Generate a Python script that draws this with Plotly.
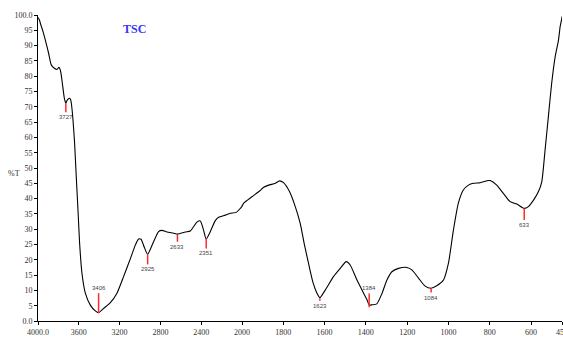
import numpy as np
import plotly.graph_objects as go

# FT-IR transmittance spectrum of TSC
wavenumber = [4000, 3985, 3977, 3950, 3928, 3896, 3870, 3840, 3814, 3795, 3785, 3775,
              3759, 3742, 3735, 3727, 3718, 3705, 3690, 3680, 3671, 3657, 3641, 3625,
              3608, 3592, 3569, 3536, 3487, 3438, 3406, 3357, 3291, 3226, 3161, 3095,
              3046, 3014, 2990, 2958, 2925, 2867, 2818, 2785, 2736, 2671, 2633, 2556,
              2507, 2475, 2442, 2409, 2377, 2351, 2311, 2262, 2229, 2164, 2115, 2056,
              2017, 2000, 1992, 1952, 1915, 1895, 1871, 1839, 1818, 1799, 1770, 1742,
              1718, 1699, 1678, 1657, 1637, 1623, 1597, 1557, 1524, 1495, 1476, 1443,
              1411, 1395, 1384, 1370, 1347, 1322, 1298, 1274, 1242, 1201, 1177, 1145,
              1113, 1084, 1057, 1024, 1000, 976, 952, 928, 903, 879, 847, 807, 798,
              766, 734, 701, 669, 633, 613, 588, 564, 548, 532, 516, 500, 483, 467,
              459, 451, 450]
transmittance = [99.2, 98.3, 97.3, 94.5, 91.8, 87.5, 83.7, 82.6, 82.2, 82.9, 82.4, 81.0,
                 77.1, 72.8, 71.9, 71.1, 71.9, 72.5, 72.8, 72.3, 70.6, 65.7, 58.0, 47.2,
                 36.3, 25.4, 15.6, 9.1, 5.2, 3.3, 2.7, 4.1, 6.0, 9.1, 14.5, 20.3,
                 24.8, 26.8, 26.7, 24.1, 21.8, 25.9, 29.2, 29.6, 29.1, 28.7, 28.4, 29.1,
                 29.4, 30.8, 32.3, 32.7, 29.7, 26.8, 29.2, 32.8, 33.9, 34.6, 35.2, 35.5,
                 36.8, 37.5, 38.5, 40.6, 42.5, 43.7, 44.4, 45.0, 45.8, 45.2, 42.3, 37.4,
                 31.9, 25.4, 18.9, 12.8, 9.1, 7.6, 10.1, 14.5, 17.2, 19.4, 18.3, 13.4,
                 9.1, 7.0, 5.2, 5.3, 5.6, 9.0, 13.4, 16.1, 17.2, 17.5, 16.7, 14.0,
                 11.4, 10.7, 11.5, 13.4, 18.9, 29.7, 38.5, 42.8, 44.4, 45.0, 45.2, 45.9, 45.9,
                 44.4, 41.7, 39.0, 38.2, 36.8, 37.4, 39.5, 42.3, 45.5, 55.9, 66.8, 77.7, 86.4, 91.8,
                 96.2, 98.9, 99.5]

# Labelled absorption bands and the transmittance at each band
peak_wn = [3727, 3406, 2925, 2633, 2351, 1623, 1384, 1084, 633]
peak_T = [71.0, 2.6, 21.8, 28.1, 27.0, 7.4, 4.5, 10.7, 36.8]

# Axis ticks: the scale doubles below 2000 cm-1
hi_ticks = [4000, 3600, 3200, 2800, 2400, 2000]
hi_tick_text = ["4000.0", "3600", "3200", "2800", "2400", "2000"]
lo_ticks = [1800, 1600, 1400, 1200, 1000, 800, 600, 450]
lo_tick_text = ["1800", "1600", "1400", "1200", "1000", "800", "600", "450"]
y_ticks = list(range(0, 101, 5))
y_tick_text = ["0.0"] + [str(v) for v in y_ticks[1:-1]] + ["100.0"]

wn = np.array(wavenumber)
tr = np.array(transmittance)

SERIF = "Liberation Serif, Times New Roman, serif"
SANS = "Liberation Sans, Arial, sans-serif"
SPLIT = 204 / 524

fig = go.Figure()

line_style = dict(color="black", width=1.1, shape="spline", smoothing=0.6)
hi = wn >= 1992
lo = wn <= 2017
fig.add_trace(go.Scatter(x=wn[hi], y=tr[hi], mode="lines", line=line_style,
                         xaxis="x", yaxis="y", hoverinfo="skip"))
fig.add_trace(go.Scatter(x=wn[lo], y=tr[lo], mode="lines", line=line_style,
                         xaxis="x2", yaxis="y", hoverinfo="skip"))

# Peak markers: short red ticks with the band position written beside them
tick_len = {3727: -2.8, 3406: 6.5, 2925: -3.3, 2633: -2.2, 2351: -3.3,
            1623: -0.8, 1384: 4.5, 1084: -1.4, 633: -3.8}
for w, t in zip(peak_wn, peak_T):
    ax = "x" if w > 2000 else "x2"
    end = t + tick_len[w]
    fig.add_trace(go.Scatter(x=[w, w], y=[t, end], mode="lines",
                             line=dict(color="#ff2b2b", width=1.5),
                             xaxis=ax, yaxis="y", hoverinfo="skip"))
    fig.add_annotation(x=w, y=end, xref=ax, yref="y", text=str(w), showarrow=False,
                       yanchor="bottom" if tick_len[w] > 0 else "top",
                       font=dict(family=SANS, size=6, color="#444444"))

axis_common = dict(showline=True, linecolor="black", linewidth=1, ticks="outside",
                   ticklen=3, tickcolor="black", showgrid=False, zeroline=False,
                   tickfont=dict(family=SERIF, size=8, color="#333333"),
                   anchor="y", ticklabeloverflow="allow", automargin=False)

fig.update_layout(
    width=563, height=338,
    margin=dict(l=38, r=1, t=15, b=17, autoexpand=False),
    paper_bgcolor="white", plot_bgcolor="white",
    showlegend=False,
    xaxis=dict(domain=[0, SPLIT], range=[4000, 2000], tickmode="array",
               tickvals=hi_ticks, ticktext=hi_tick_text, **axis_common),
    xaxis2=dict(domain=[SPLIT, 1], range=[2000, 450], tickmode="array",
                tickvals=lo_ticks, ticktext=lo_tick_text, **axis_common),
    yaxis=dict(range=[0, 100], tickmode="array", tickvals=y_ticks, ticktext=y_tick_text,
               showline=True, linecolor="black", linewidth=1, ticks="outside",
               ticklen=3, tickcolor="black", showgrid=False, zeroline=False,
               automargin=False,
               tickfont=dict(family=SERIF, size=8, color="#333333")),
)

fig.add_annotation(x=3050, y=95.5, xref="x", yref="y", text="<b>TSC</b>",
                   showarrow=False, font=dict(family=SERIF, size=12, color="#3535f5"))
fig.add_annotation(x=-0.045, y=(321 - 174) / 306, xref="paper", yref="paper", text="%T",
                   showarrow=False, xanchor="center", yanchor="middle",
                   font=dict(family=SERIF, size=8, color="#333333"))
fig.add_annotation(x=1745, y=-0.058, xref="x2", yref="paper", text="cm-1", showarrow=False,
                   yanchor="top", font=dict(family=SERIF, size=8, color="#333333"))

fig.write_html("out.html")
